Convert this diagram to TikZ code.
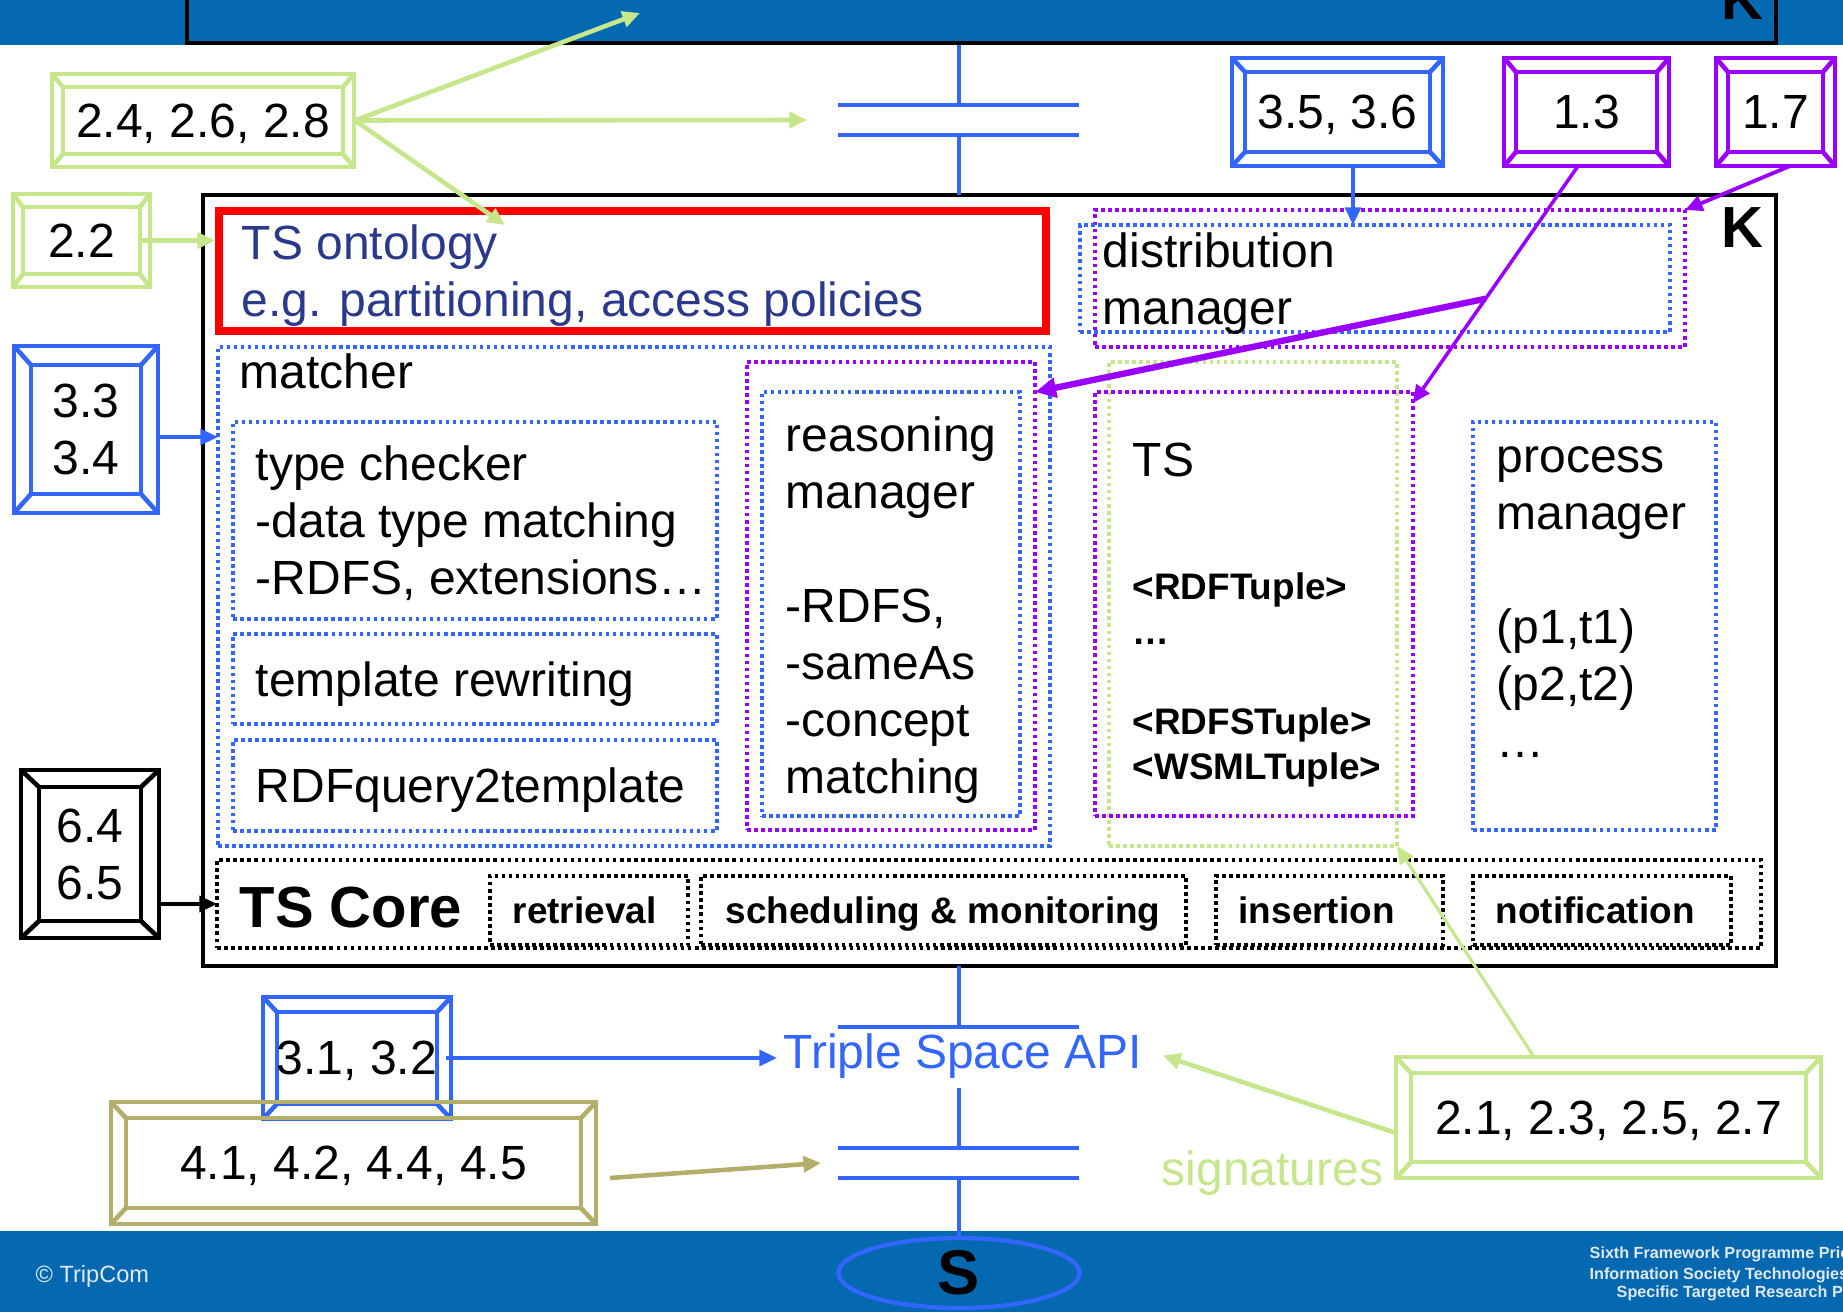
\documentclass[tikz,border=0pt]{standalone}
\usepackage{fontspec}
\setmainfont{Liberation Sans}
\usetikzlibrary{arrows.meta,fit,shapes.geometric}

\definecolor{bandblue}{RGB}{4,105,177}
\definecolor{capblue}{RGB}{51,102,255}
\definecolor{tsviolet}{RGB}{153,0,255}
\definecolor{tsgreen}{RGB}{198,230,140}
\definecolor{tsolive}{RGB}{179,175,107}
\definecolor{tsnavy}{RGB}{43,57,140}
\definecolor{footgrey}{RGB}{226,232,240}

\newcommand{\txtfont}{\fontsize{13.66pt}{16.2pt}\selectfont}
\newcommand{\tplfont}{\fontsize{10.5pt}{12.8pt}\selectfont\bfseries}
\newcommand{\bigfont}{\fontsize{16.5pt}{20pt}\selectfont\bfseries}

% outer rectangle and corner lines of a bevelled frame
\newcommand{\bevelframe}[4]{%
  \draw[#2] ([shift={(-#3,-#4)}]#1.north west) rectangle ([shift={(#3,#4)}]#1.south east);
  \draw[#2] (#1.north west) -- ++(-#3,-#4);
  \draw[#2] (#1.north east) -- ++(#3,-#4);
  \draw[#2] (#1.south west) -- ++(-#3,#4);
  \draw[#2] (#1.south east) -- ++(#3,#4);
}

\begin{document}
\begin{tikzpicture}[x=0.1mm, y=-0.1mm,
    txt/.style={font=\txtfont, inner sep=0pt, align=left},
    tpl/.style={font=\tplfont, inner sep=0pt, align=left},
    dotbox/.style={draw=#1, line width=1pt, dash pattern=on 1pt off 1pt, inner sep=0pt, outer sep=0pt},
    bevelbox/.style={draw=#1, line width=1.3pt, inner sep=0pt, outer sep=0pt, font=\txtfont, align=center},
    oneline/.style={text depth=0pt},
    bevelline/.style={draw=#1, line width=1.3pt},
    link/.style={draw=#1, line width=1.3pt, -{Triangle[length=5pt, width=4.5pt]}},
    capline/.style={capblue, line width=1.3pt}]

    \useasboundingbox (0,0) rectangle (1843,1312);
    \clip (0,0) rectangle (1843,1312);

    % Draw the bands
    \fill[bandblue] (0,0) rectangle (1843,45);
    \draw[line width=1pt, fill=bandblue] (187,-30) rectangle (1776,43);
    \node (ktop) [font=\bigfont, inner sep=0pt, anchor=base] at (1742,20) {K};
    \fill[bandblue] (0,1231) rectangle (1843,1312);

    % Draw the K box
    \node (kbox) [draw, line width=1pt, inner sep=0pt, fit={(203,195)(1776,966)}] {};
    \node (kmain) [font=\bigfont, inner sep=0pt, anchor=base] at (1742,247) {K};

    % Draw the TS ontology (base anchor = last line)
    \node (onto) [draw=red, line width=2.3pt, inner sep=0pt, fit={(219,211)(1046,331)}] {};
    \node (ontotxt) [txt, text=tsnavy, anchor=base west] at (241,316) {TS ontology\\e.g. partitioning, access policies};

    % Draw the distribution manager
    \node (distout) [dotbox=tsviolet, fit={(1095,210)(1685,347)}] {};
    \node (distin) [dotbox=capblue, fit={(1080,225)(1670,332)}] {};
    \node (disttxt) [txt, anchor=base west] at (1102,324) {distribution\\manager};

    % Draw the matcher
    \node (matcher) [dotbox=capblue, fit={(218,347)(1050,846)}] {};
    \node (matchtxt) [txt, anchor=base west] at (239,388) {matcher};
    \node (typechk) [dotbox=capblue, fit={(233,422)(717,619)}] {};
    \node (typetxt) [txt, anchor=base west] at (255,594) {type checker\\-data type matching\\-RDFS, extensions…};
    \node (tmplrw) [dotbox=capblue, fit={(233,634)(717,724)}] {};
    \node (tmpltxt) [txt, anchor=base west] at (255,696) {template rewriting};
    \node (rdfq) [dotbox=capblue, fit={(233,740)(717,831)}] {};
    \node (rdfqtxt) [txt, anchor=base west] at (255,802) {RDFquery2template};

    % Draw the reasoning manager
    \node (reasout) [dotbox=tsviolet, fit={(747,362)(1035,830)}] {};
    \node (reasin) [dotbox=capblue, fit={(762,392)(1020,816)}] {};
    \node (reastxt) [txt, anchor=base west] at (785,793) {reasoning\\manager\\ \\-RDFS,\\-sameAs\\-concept\\matching};

    % Draw the TS store
    \node (tsout) [dotbox=tsgreen, fit={(1109,362)(1397,846)}] {};
    \node (tsbox) [dotbox=tsviolet, fit={(1095,392)(1413,816)}] {};
    \node (tstxt) [txt, anchor=base west] at (1132,476) {TS};
    \node (tupltxt) [tpl, anchor=base west] at (1132,779) {<RDFTuple>\\…\\ \\<RDFSTuple>\\<WSMLTuple>};

    % Draw the process manager
    \node (procmgr) [dotbox=capblue, fit={(1473,422)(1716,830)}] {};
    \node (proctxt) [txt, anchor=base west] at (1496,757) {process\\manager\\ \\(p1,t1)\\(p2,t2)\\…};

    % Draw the TS core
    \node (tscore) [dotbox=black, fit={(217,860)(1761,948)}] {};
    \node (coretxt) [font=\bigfont, inner sep=0pt, anchor=base west] at (239,927) {TS Core};
    \node (retr) [dotbox=black, fit={(490,876)(688,945)}] {};
    \node (sched) [dotbox=black, fit={(701,876)(1186,945)}] {};
    \node (insert) [dotbox=black, fit={(1216,876)(1443,945)}] {};
    \node (notif) [dotbox=black, fit={(1473,876)(1731,945)}] {};
    \node (retrtxt) [tpl, anchor=base west] at (512,923) {retrieval};
    \node (schedtxt) [tpl, anchor=base west] at (725,923) {scheduling \& monitoring};
    \node (inserttxt) [tpl, anchor=base west] at (1238,923) {insertion};
    \node (notiftxt) [tpl, anchor=base west] at (1495,923) {notification};

    % Draw the couplings
    \draw[capblue, line width=1pt] (959,45) -- (959,105);
    \draw[capline] (838,105) -- (1079,105);
    \draw[capline] (838,135) -- (1079,135);
    \draw[capblue, line width=1pt] (959,135) -- (959,195);
    \draw[capblue, line width=1pt] (959,966) -- (959,1027);
    \draw[capline] (838,1027) -- (1079,1027);
    \node (api) [txt, inner xsep=0.6mm, text=capblue, anchor=base west] at (777,1068) {Triple Space API};
    \draw[capblue, line width=1pt] (959,1088) -- (959,1148);
    \draw[capline] (838,1148) -- (1079,1148);
    \draw[capline] (838,1178) -- (1079,1178);
    \node (snode) [ellipse, draw=capblue, line width=1.2pt, minimum width=24.1mm, minimum height=7mm, inner sep=0pt, font=\fontsize{18pt}{20pt}\selectfont\bfseries] at (959,1273) {S};
    \draw[capblue, line width=1pt] (959,1178) -- (snode.north);
    \node (sig) [txt, text=tsgreen, anchor=base west] at (1161,1185) {signatures};

    % Draw the footer
    \node (copy) [font=\fontsize{6.7pt}{8pt}\selectfont, text=footgrey, inner sep=0pt, anchor=base west] at (35,1282) {© TripCom};
    \node (fp1) [font=\fontsize{4.6pt}{5.5pt}\selectfont\bfseries, text=footgrey, inner sep=0pt, anchor=base west] at (1589,1258) {Sixth Framework Programme Prio};
    \node (fp2) [font=\fontsize{4.6pt}{5.5pt}\selectfont\bfseries, text=footgrey, inner sep=0pt, anchor=base west] at (1589,1279) {Information Society Technologies};
    \node (fp3) [font=\fontsize{4.6pt}{5.5pt}\selectfont\bfseries, text=footgrey, inner sep=0pt, anchor=base west] at (1616,1297) {Specific Targeted Research P};

    % Draw the frames
    \node (f248) [bevelbox=tsgreen, oneline, minimum width=28mm, minimum height=6.7mm] at (203,120.5) {2.4, 2.6, 2.8};
    \bevelframe{f248}{bevelline=tsgreen}{11}{13}
    \node (f22) [bevelbox=tsgreen, oneline, minimum width=11.7mm, minimum height=6.7mm] at (81.5,240.5) {2.2};
    \bevelframe{f22}{bevelline=tsgreen}{10}{13}
    \node (f3334) [bevelbox=capblue, minimum width=11mm, minimum height=12.9mm] at (86,429.5) {3.3\\3.4};
    \bevelframe{f3334}{bevelline=capblue}{17}{19}
    \node (f6465) [bevelbox=black, minimum width=10.2mm, minimum height=13.4mm] at (90,854) {6.4\\6.5};
    \bevelframe{f6465}{bevelline=black}{18}{17}
    \node (f3536) [bevelbox=capblue, oneline, minimum width=18.5mm, minimum height=8mm] at (1337.5,112) {3.5, 3.6};
    \bevelframe{f3536}{bevelline=capblue}{13}{14}
    \node (f13) [bevelbox=tsviolet, oneline, minimum width=14.1mm, minimum height=8mm] at (1586.5,112) {1.3};
    \bevelframe{f13}{bevelline=tsviolet}{12}{14}
    \node (f17) [bevelbox=tsviolet, oneline, minimum width=9.5mm, minimum height=8mm] at (1775.5,112) {1.7};
    \bevelframe{f17}{bevelline=tsviolet}{12}{14}
    \node (f3132) [bevelbox=capblue, oneline, minimum width=16mm, minimum height=9.2mm] at (357,1058) {3.1, 3.2};
    \bevelframe{f3132}{bevelline=capblue}{14}{15}
    \node (f41) [bevelbox=tsolive, oneline, minimum width=45.5mm, minimum height=9mm] at (353.5,1163) {4.1, 4.2, 4.4, 4.5};
    \bevelframe{f41}{bevelline=tsolive}{15}{16}
    \node (f21) [bevelbox=tsgreen, oneline, minimum width=39.5mm, minimum height=8.9mm] at (1608.5,1117.5) {2.1, 2.3, 2.5, 2.7};
    \bevelframe{f21}{bevelline=tsgreen}{15}{16}

    % Draw the arrows
    \coordinate (bandtip) at (640,13);
    \coordinate (captip) at (807,120);
    \coordinate (ontotip) at (505,225);
    \coordinate (lowtip) at (821,1163);
    \draw[link=tsgreen] ([xshift=1.2mm]f248.east) -- (bandtip);
    \draw[link=tsgreen] ([xshift=1.2mm]f248.east) -- (captip);
    \draw[link=tsgreen] ([xshift=1.2mm]f248.east) -- (ontotip);
    \draw[link=tsgreen] (f22.east) -- (f22.east -| onto.west);
    \draw[link=capblue, line width=1pt] ([shift={(1.7mm,-0.75mm)}]f3334.east) -- ([yshift=-0.75mm]f3334.east -| matcher.west);
    \draw[link=black, line width=1pt] ([xshift=1.7mm]tscore.west -| f6465.east) -- (tscore.west);
    \draw[link=capblue, line width=1pt] ([xshift=1.55mm, yshift=-1.4mm]f3536.south) -- ([xshift=1.55mm]f3536.south |- distin.north);
    \draw[link=tsviolet, line width=1.1pt] ([xshift=1.45mm, yshift=-1.4mm]f17.south) -- (distout.north east);
    \draw[link=tsviolet, line width=1pt] ([xshift=-0.85mm, yshift=-1.4mm]f13.south) -- coordinate[pos=0.56] (fork) ([yshift=-1.1mm]tsbox.north east);
    \draw[tsviolet, line width=1.8pt, -{Triangle[length=6pt, width=5.5pt]}] (fork) -- (reasout.east |- reasin.north);
    \draw[link=capblue, line width=1pt] ([xshift=0.9mm]f3132.east) -- (f3132.east -| api.west);
    \draw[link=tsolive] ([xshift=2.9mm, yshift=-1.5mm]f41.east) -- (lowtip);
    \draw[link=tsgreen] ([xshift=-1.5mm, yshift=-1.55mm]f21.west) -- ([xshift=1.4mm]api.east);
    \draw[link=tsgreen, line width=0.9pt] ([xshift=-7.45mm, yshift=1.6mm]f21.north) -- (tsout.south east);
\end{tikzpicture}
\end{document}
